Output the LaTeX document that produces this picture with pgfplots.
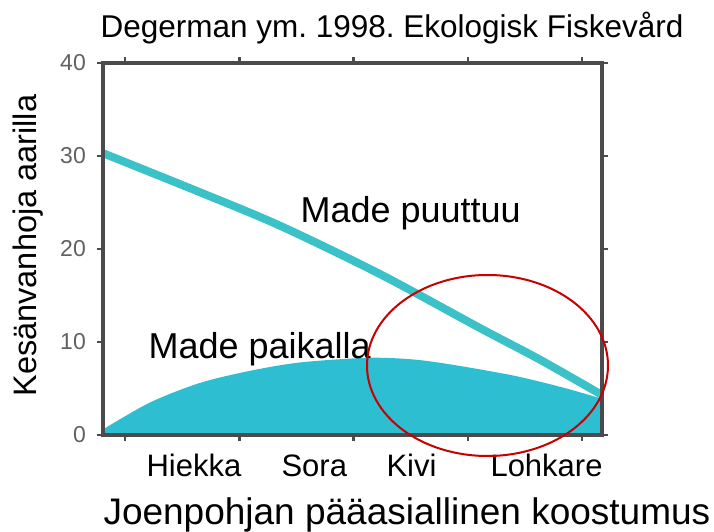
\documentclass[border=0pt]{standalone}
\usepackage{fontspec}
\setmainfont{Liberation Sans}
\usepackage{pgfplots}
\pgfplotsset{compat=1.18}
\definecolor{linecyan}{RGB}{58,194,200}
\definecolor{fillcyan}{RGB}{46,190,210}
\definecolor{axisgray}{RGB}{75,75,78}
\definecolor{markred}{RGB}{200,0,0}
\newcommand{\fs}[1]{\fontsize{#1}{#1}\selectfont}
\frenchspacing

\begin{document}
\begin{tikzpicture}
\begin{axis}[
    scale only axis,
    width=499bp, height=372bp,
    xmin=0.807, xmax=5.175,
    ymin=0, ymax=40,
    xtick={1,2,3,4,5}, xticklabels={},
    ytick={0,10,20,30,40},
    tick align=outside,
    major tick length=6bp,
    tick style={axisgray, line width=2.5bp},
    axis line style={axisgray, line width=4bp},
    yticklabel style={font=\fs{23bp}, text=black!62, inner sep=0pt, xshift=-11bp},
    /pgf/number format/assume math mode=true,
    axis on top,
    clip=false,
  ]
  % Made paikalla (filled area)
  \addplot[draw=none, fill=fillcyan, smooth] coordinates {
      (0.807,0.6) (1.219,3.5) (1.656,5.6) (2.094,6.9) (2.532,7.8)
      (3.118,8.3) (3.495,8.15) (3.818,7.65) (4.396,6.4) (4.834,5.1) (5.175,3.9)
    } \closedcycle;
  % Made puuttuu (line)
  \addplot[linecyan, line width=8bp, smooth] coordinates {
      (0.807,30.3) (1.656,26.1) (2.357,22.5) (3.232,17.3)
      (4.107,11.5) (4.632,8.1) (5.175,4.3)
    };
\end{axis}

% texts
\node[anchor=base west, font=\fs{31.5bp}] at ([shift={(-6bp,397.5bp)}]current axis.south west) {Degerman ym. 1998. Ekologisk Fiskevård};
\node[anchor=base west, font=\fs{36bp}] at ([shift={(194bp,212bp)}]current axis.south west) {Made puuttuu};
\node[anchor=base west, font=\fs{36bp}] at ([shift={(42bp,76bp)}]current axis.south west) {Made paikalla};
\node[anchor=base west, font=\fs{31bp}] at ([shift={(40bp,-41bp)}]current axis.south west) {Hiekka};
\node[anchor=base west, font=\fs{31bp}] at ([shift={(175bp,-41bp)}]current axis.south west) {Sora};
\node[anchor=base west, font=\fs{31bp}] at ([shift={(280bp,-41bp)}]current axis.south west) {Kivi};
\node[anchor=base west, font=\fs{31bp}] at ([shift={(384bp,-41bp)}]current axis.south west) {Lohkare};
\node[anchor=base west, font=\fs{37bp}] at ([shift={(-3bp,-89bp)}]current axis.south west) {Joenpohjan pääasiallinen koostumus};
\node[anchor=base west, rotate=90, font=\fs{32.5bp}] at ([shift={(-66bp,35bp)}]current axis.south west) {Kesänvanhoja aarilla};

% red ellipse
\draw[markred, line width=2bp] ([shift={(384.5bp,69.5bp)}]current axis.south west) ellipse [x radius=120.5bp, y radius=90.5bp];

\pgfresetboundingbox
\path[use as bounding box] ([shift={(-103bp,-97bp)}]current axis.south west) rectangle ++(714bp,532bp);
\end{tikzpicture}
\end{document}
